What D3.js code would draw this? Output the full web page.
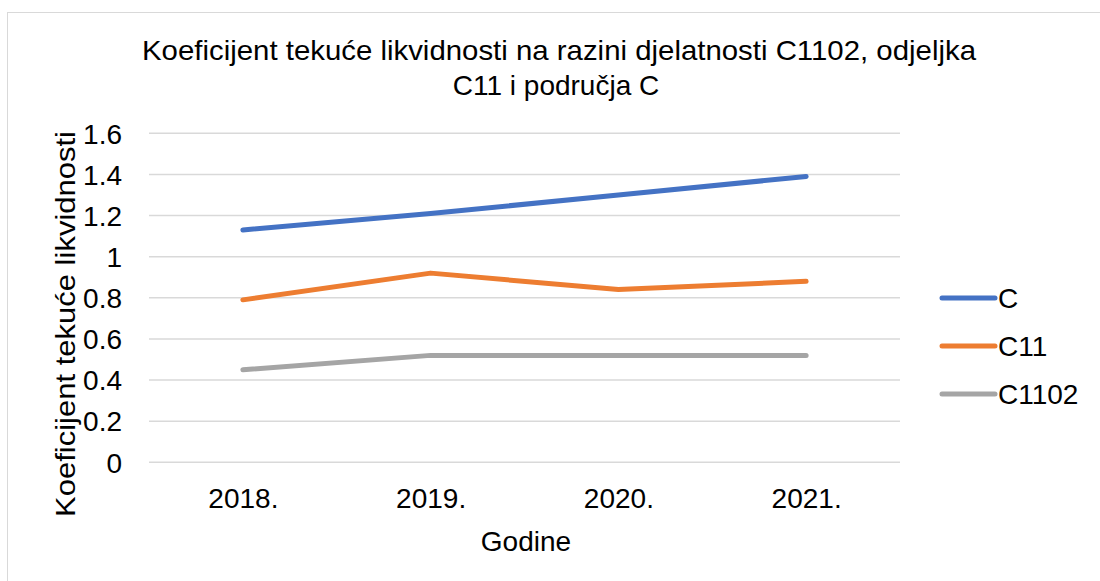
<!DOCTYPE html>
<html>
<head>
<meta charset="utf-8">
<script src="https://cdn.jsdelivr.net/npm/d3@7"></script>
<style>
  body { margin: 0; background: #fff; }
  text { font-family: "Liberation Sans", Arial, sans-serif; fill: #000; }
</style>
</head>
<body>
<svg id="chart" width="1100" height="581"></svg>
<script>
// data
const years = ["2018.", "2019.", "2020.", "2021."];
const seriesNames = ["C", "C11", "C1102"];
const valuesC = [1.13, 1.21, 1.30, 1.39];
const valuesC11 = [0.79, 0.92, 0.84, 0.88];
const valuesC1102 = [0.45, 0.52, 0.52, 0.52];
const yTicks = [0, 0.2, 0.4, 0.6, 0.8, 1, 1.2, 1.4, 1.6];
const colors = ["#4472C4", "#ED7D31", "#A5A5A5"];

const series = [valuesC, valuesC11, valuesC1102].map((v, i) => ({
  name: seriesNames[i], color: colors[i], values: v
}));

const svg = d3.select("#chart");
const fs = "28px";

// outer frame
svg.append("rect")
  .attr("x", 7.5).attr("y", 12.5)
  .attr("width", 1100).attr("height", 600)
  .attr("fill", "none").attr("stroke", "#D9D9D9").attr("stroke-width", 1);

const plotLeft = 149, plotRight = 900, plotTop = 133.3, plotBottom = 462.3;

const x = d3.scalePoint().domain(years).range([plotLeft, plotRight]).padding(0.5);
const y = d3.scaleLinear().domain([0, 1.6]).range([plotBottom, plotTop]);

// title
const title = svg.append("text")
  .attr("text-anchor", "middle")
  .style("font-size", fs);
title.append("tspan").attr("x", 559).attr("y", 60)
  .attr("textLength", 834).attr("lengthAdjust", "spacingAndGlyphs")
  .text("Koeficijent tekuće likvidnosti na razini djelatnosti C1102, odjeljka");
title.append("tspan").attr("x", 556).attr("y", 95)
  .text("C11 i područja C");

// gridlines
svg.append("g")
  .selectAll("line")
  .data(yTicks)
  .join("line")
  .attr("x1", plotLeft).attr("x2", plotRight)
  .attr("y1", d => y(d)).attr("y2", d => y(d))
  .attr("stroke", "#D9D9D9").attr("stroke-width", 1.5);

// y axis labels
const yAxis = svg.append("g")
  .attr("transform", `translate(${plotLeft - 27},0)`)
  .call(d3.axisLeft(y).tickValues(yTicks).tickSize(0).tickPadding(0)
    .tickFormat(d3.format("")));
yAxis.select(".domain").remove();
yAxis.selectAll("text")
  .attr("dy", "0.35em")
  .style("font-size", fs)
  .style("font-family", "'Liberation Sans', Arial, sans-serif")
  .attr("fill", "#000");

// x axis labels
const xAxis = svg.append("g")
  .attr("transform", `translate(0,${plotBottom})`)
  .call(d3.axisBottom(x).tickSize(0).tickPadding(0));
xAxis.select(".domain").remove();
xAxis.selectAll("text")
  .attr("y", 46).attr("dy", 0)
  .style("font-size", fs)
  .style("font-family", "'Liberation Sans', Arial, sans-serif")
  .attr("fill", "#000");

// axis titles
svg.append("text")
  .attr("x", 526).attr("y", 551)
  .attr("text-anchor", "middle")
  .style("font-size", fs)
  .text("Godine");

svg.append("text")
  .attr("transform", "translate(75,324) rotate(-90)")
  .attr("text-anchor", "middle")
  .attr("textLength", 386).attr("lengthAdjust", "spacingAndGlyphs")
  .style("font-size", fs)
  .text("Koeficijent tekuće likvidnosti");

// lines
const line = d3.line()
  .x((d, i) => x(years[i]))
  .y(d => y(d));

svg.append("g")
  .selectAll("path")
  .data(series)
  .join("path")
  .attr("d", d => line(d.values))
  .attr("fill", "none")
  .attr("stroke", d => d.color)
  .attr("stroke-width", 5)
  .attr("stroke-linecap", "round")
  .attr("stroke-linejoin", "round");

// legend
const legend = svg.append("g")
  .selectAll("g")
  .data(series)
  .join("g")
  .attr("transform", (d, i) => `translate(940,${298 + i * 48})`);
legend.append("line")
  .attr("x1", 2).attr("x2", 55)
  .attr("stroke", d => d.color)
  .attr("stroke-width", 5)
  .attr("stroke-linecap", "round");
legend.append("text")
  .attr("x", 58).attr("dy", "0.35em")
  .style("font-size", fs)
  .text(d => d.name);
</script>
</body>
</html>
